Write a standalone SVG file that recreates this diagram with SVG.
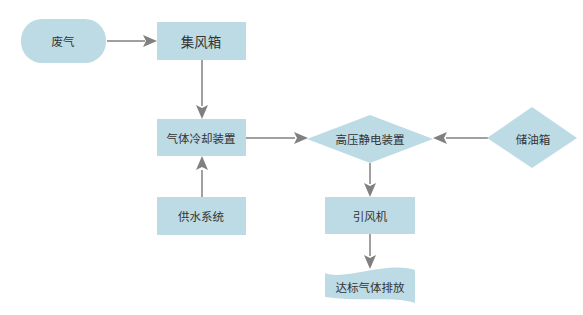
<svg xmlns="http://www.w3.org/2000/svg" width="583" height="315" viewBox="0 0 583 315">
<defs>
<style>
.n{fill:#bddbe5;stroke:none}
.t{font-family:"Noto Sans CJK SC","Liberation Sans",sans-serif;font-size:11.5px;fill:#333;text-anchor:middle;dominant-baseline:central}
.l{stroke:#808080;stroke-width:1.5;fill:none}
.h{fill:#808080}
</style>
</defs>
<rect width="583" height="315" fill="#fff"/>
<g id="connectors">
<path class="l" d="M107,41 L145,41"/>
<path class="h" d="M143,35 L157,41 L143,47 L146,41 Z"/>
<path class="l" d="M202,60 L202,106"/>
<path class="h" d="M196,105 L202,119 L208,105 L202,108 Z"/>
<path class="l" d="M202,197 L202,170"/>
<path class="h" d="M196,170 L202,156 L208,170 L202,167 Z"/>
<path class="l" d="M246,138 L295,138"/>
<path class="h" d="M294,132 L308,138 L294,144 L297,138 Z"/>
<path class="l" d="M488,138 L446,138"/>
<path class="h" d="M447,132 L433,138 L447,144 L444,138 Z"/>
<path class="l" d="M370,163 L370,184"/>
<path class="h" d="M364,183 L370,197 L376,183 L370,186 Z"/>
<path class="l" d="M370,234 L370,256"/>
<path class="h" d="M364,255 L370,269 L376,255 L370,258 Z"/>
</g>
<g id="n1"><rect class="n" x="21" y="19" width="85" height="44" rx="21" ry="21"/><text class="t" x="63" y="41">废气</text></g>
<g id="n2"><rect class="n" x="157" y="22" width="89" height="38"/><text class="t" x="201" y="41" style="font-size:13.5px">集风箱</text></g>
<g id="n3"><rect class="n" x="157" y="119" width="89" height="37"/><text class="t" x="201" y="138">气体冷却装置</text></g>
<g id="n4"><rect class="n" x="157" y="197" width="89" height="38"/><text class="t" x="201" y="216">供水系统</text></g>
<g id="n5"><polygon class="n" points="307,139 370,115 433,139 370,163"/><text class="t" x="370" y="139">高压静电装置</text></g>
<g id="n6"><polygon class="n" points="487,138 532,107 577,138 532,168"/><text class="t" x="533" y="139">储油箱</text></g>
<g id="n7"><rect class="n" x="325" y="197" width="90" height="37"/><text class="t" x="370" y="216">引风机</text></g>
<g id="n8"><path class="n" d="M325,273 C345,281 385,261 415,270 L415,303 C395,296 360,302 325,297 Z"/><text class="t" x="370" y="287">达标气体排放</text></g>
</svg>
